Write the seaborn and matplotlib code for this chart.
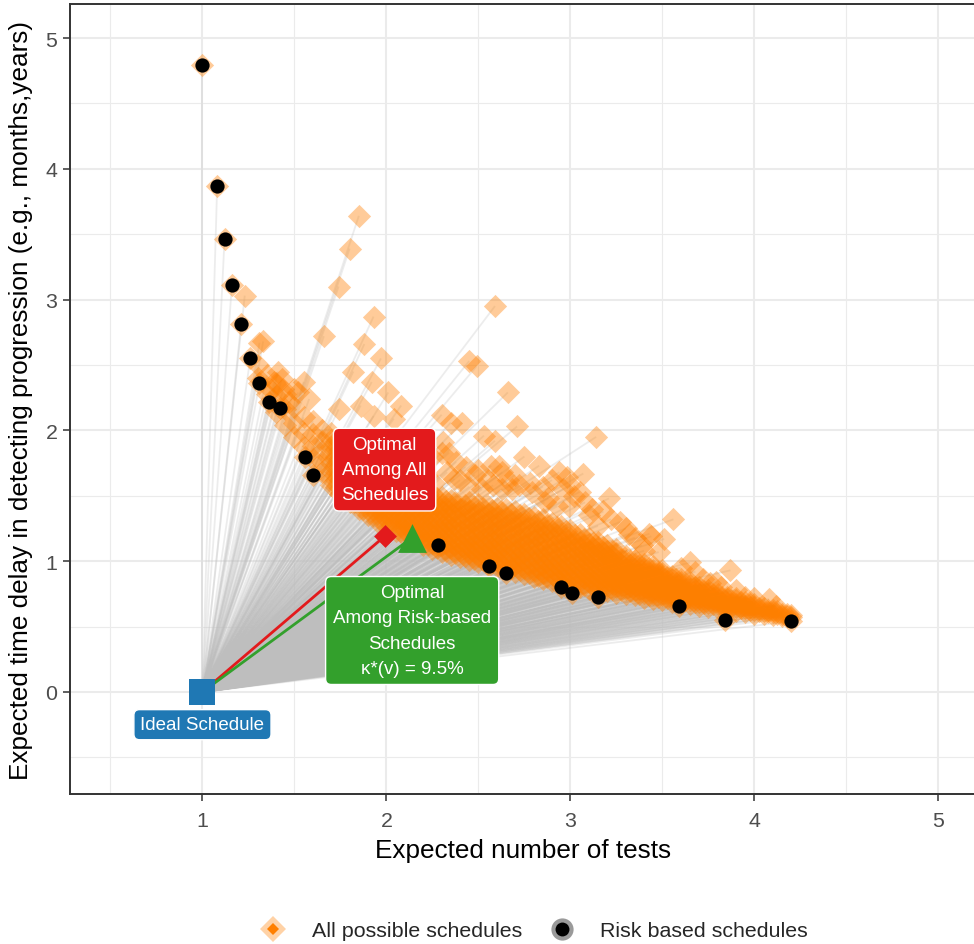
import matplotlib
matplotlib.use("Agg")
import matplotlib.pyplot as plt
import numpy as np
import pandas as pd
import seaborn as sns
from matplotlib.collections import LineCollection
from matplotlib.lines import Line2D
from matplotlib.legend_handler import HandlerTuple
from matplotlib.ticker import MultipleLocator

# ---- data -------------------------------------------------------------
# Risk-based schedules: expected number of tests vs expected detection delay
risk_tests = [1.00, 1.08, 1.12, 1.16, 1.21, 1.26, 1.31, 1.36, 1.42, 1.56,
              1.60, 2.28, 2.56, 2.65, 2.95, 3.01, 3.15, 3.59, 3.84, 4.20]
risk_delay = [4.79, 3.87, 3.46, 3.11, 2.81, 2.55, 2.36, 2.22, 2.17, 1.80,
              1.66, 1.12, 0.96, 0.91, 0.80, 0.76, 0.73, 0.66, 0.55, 0.54]

# Schedules scattered away from the main band
scatter_tests = [1.23, 1.31, 1.33, 1.43, 1.50, 1.55, 1.44, 1.39, 1.85, 1.80,
                 1.74, 1.66, 1.93, 1.88, 1.97, 1.82, 1.92, 2.01, 1.86, 1.74,
                 2.08, 1.93, 2.04, 2.30, 2.35, 2.41, 2.45, 2.49, 2.59, 2.66,
                 2.71, 2.53, 2.59, 2.75, 2.83, 2.94, 3.07, 2.98, 2.61, 2.57,
                 2.63, 2.34, 2.31, 2.30, 2.37, 2.45, 2.52, 2.63, 2.68, 2.79,
                 2.88, 2.99, 3.05, 3.10, 3.14, 3.21, 3.27, 3.15, 3.56, 3.43,
                 3.51, 3.32, 3.65, 3.87, 4.08, 3.95, 3.79, 3.72, 3.48, 3.39,
                 3.44, 2.18, 2.22, 2.26, 2.33, 2.40, 2.43, 2.48, 2.55, 2.58,
                 2.66, 2.72, 2.70, 2.78, 2.85, 2.90, 2.96, 3.02, 3.08, 3.12,
                 2.86, 2.93, 2.50, 2.38, 2.20, 2.25, 3.00, 3.18, 3.22, 3.35,
                 3.30, 3.40, 3.60, 3.68, 3.76, 3.82, 3.90, 4.00, 4.12, 1.37,
                 1.47, 1.52, 1.58, 1.41]
scatter_delay = [3.03, 2.67, 2.68, 2.39, 2.32, 2.37, 2.32, 2.37, 3.64, 3.39,
                 3.10, 2.72, 2.87, 2.66, 2.55, 2.45, 2.37, 2.29, 2.19, 2.16,
                 2.19, 2.11, 2.09, 2.12, 2.06, 2.06, 2.53, 2.49, 2.95, 2.29,
                 2.03, 1.96, 1.92, 1.80, 1.73, 1.68, 1.67, 1.64, 1.73, 1.73,
                 1.68, 1.83, 1.91, 1.83, 1.63, 1.57, 1.55, 1.55, 1.55, 1.53,
                 1.48, 1.42, 1.53, 1.35, 1.95, 1.48, 1.30, 1.27, 1.32, 1.21,
                 1.17, 1.21, 0.99, 0.93, 0.71, 0.73, 0.84, 0.86, 1.07, 1.12,
                 1.19, 1.62, 1.66, 1.60, 1.68, 1.62, 1.72, 1.66, 1.62, 1.58,
                 1.62, 1.58, 1.66, 1.60, 1.57, 1.62, 1.55, 1.50, 1.45, 1.40,
                 1.45, 1.42, 1.70, 1.76, 1.72, 1.80, 1.58, 1.38, 1.32, 1.18,
                 1.25, 1.08, 0.95, 0.92, 0.83, 0.80, 0.78, 0.72, 0.66, 2.31,
                 2.22, 2.29, 2.24, 2.45]

# Main band of schedules, listed column by column
band_tests = [1.30, 1.35, 1.40, 1.45, 1.50, 1.55, 1.60, 1.65, 1.70, 1.75,
              1.80, 1.85, 1.90, 1.95, 2.00, 2.05, 2.10, 2.15, 2.20, 2.25,
              2.30, 2.35, 2.40, 2.45, 2.50, 2.55, 2.60, 2.65, 2.70, 2.75,
              2.80, 2.85, 2.90, 2.95, 3.00, 3.05, 3.10, 3.15, 3.20, 3.25,
              3.30, 3.35, 3.40, 3.45, 3.50, 3.55, 3.60, 3.65, 3.70, 3.75,
              3.80, 3.85, 3.90, 3.95, 4.00, 4.05, 4.10, 4.15, 4.20]
band_delay = [
    [2.40, 2.50],
    [2.28, 2.42],
    [2.14, 2.26, 2.36],
    [2.04, 2.16, 2.28],
    [1.95, 2.06, 2.18],
    [1.87, 1.98, 2.10],
    [1.78, 1.88, 1.97, 2.07],
    [1.68, 1.76, 1.84, 1.92, 2.00],
    [1.58, 1.63, 1.69, 1.75, 1.81, 1.87, 1.93, 1.98],
    [1.51, 1.56, 1.62, 1.67, 1.73, 1.79, 1.85, 1.91],
    [1.45, 1.50, 1.55, 1.61, 1.66, 1.72, 1.78, 1.84],
    [1.40, 1.45, 1.50, 1.55, 1.61, 1.66, 1.72, 1.78],
    [1.35, 1.40, 1.45, 1.50, 1.56, 1.61, 1.67, 1.73],
    [1.31, 1.36, 1.41, 1.46, 1.51, 1.57, 1.62, 1.68],
    [1.27, 1.32, 1.37, 1.42, 1.47, 1.53, 1.58, 1.64],
    [1.23, 1.28, 1.33, 1.38, 1.43, 1.49, 1.54, 1.60],
    [1.19, 1.24, 1.29, 1.34, 1.39, 1.45, 1.50, 1.56],
    [1.16, 1.21, 1.26, 1.31, 1.36, 1.41, 1.46, 1.52, 1.57],
    [1.12, 1.17, 1.22, 1.27, 1.32, 1.37, 1.42, 1.48, 1.54],
    [1.09, 1.14, 1.19, 1.24, 1.29, 1.34, 1.40, 1.45, 1.51],
    [1.07, 1.12, 1.17, 1.22, 1.27, 1.32, 1.38, 1.43, 1.49],
    [1.05, 1.10, 1.15, 1.20, 1.25, 1.30, 1.36, 1.41, 1.47],
    [1.03, 1.08, 1.13, 1.18, 1.23, 1.29, 1.34, 1.40, 1.46],
    [1.01, 1.06, 1.11, 1.16, 1.21, 1.27, 1.32, 1.38, 1.45],
    [0.99, 1.04, 1.09, 1.14, 1.20, 1.25, 1.31, 1.37, 1.44],
    [0.98, 1.03, 1.08, 1.13, 1.18, 1.24, 1.30, 1.36, 1.42],
    [0.96, 1.01, 1.06, 1.11, 1.17, 1.22, 1.28, 1.34, 1.41],
    [0.94, 0.99, 1.04, 1.10, 1.15, 1.21, 1.27, 1.33, 1.40],
    [0.92, 0.97, 1.02, 1.08, 1.13, 1.19, 1.25, 1.31, 1.38],
    [0.90, 0.95, 1.01, 1.06, 1.12, 1.17, 1.23, 1.29, 1.36],
    [0.88, 0.93, 0.99, 1.04, 1.10, 1.16, 1.21, 1.27, 1.34],
    [0.86, 0.91, 0.97, 1.02, 1.08, 1.14, 1.19, 1.25, 1.32],
    [0.85, 0.90, 0.95, 1.00, 1.06, 1.11, 1.17, 1.23, 1.29],
    [0.83, 0.88, 0.93, 0.98, 1.04, 1.09, 1.15, 1.21, 1.27],
    [0.81, 0.86, 0.91, 0.96, 1.02, 1.07, 1.13, 1.18, 1.24],
    [0.80, 0.85, 0.90, 0.95, 1.00, 1.05, 1.10, 1.15, 1.21],
    [0.79, 0.84, 0.88, 0.93, 0.98, 1.03, 1.08, 1.13, 1.18],
    [0.78, 0.82, 0.87, 0.92, 0.96, 1.01, 1.06, 1.11, 1.15],
    [0.77, 0.81, 0.86, 0.90, 0.95, 0.99, 1.04, 1.08, 1.12],
    [0.76, 0.80, 0.84, 0.89, 0.93, 0.97, 1.02, 1.06, 1.09],
    [0.75, 0.79, 0.83, 0.87, 0.91, 0.95, 1.00, 1.04],
    [0.74, 0.78, 0.82, 0.86, 0.90, 0.94, 0.98, 1.01],
    [0.72, 0.76, 0.80, 0.84, 0.88, 0.92, 0.95, 0.98],
    [0.71, 0.75, 0.79, 0.83, 0.86, 0.90, 0.93, 0.96],
    [0.70, 0.74, 0.78, 0.81, 0.85, 0.88, 0.91, 0.93],
    [0.69, 0.73, 0.76, 0.80, 0.83, 0.86, 0.89],
    [0.68, 0.71, 0.75, 0.78, 0.81, 0.84, 0.86],
    [0.67, 0.70, 0.73, 0.76, 0.79, 0.82, 0.84],
    [0.66, 0.69, 0.72, 0.75, 0.78, 0.80],
    [0.65, 0.68, 0.71, 0.74, 0.76, 0.78],
    [0.64, 0.67, 0.70, 0.72, 0.75],
    [0.63, 0.66, 0.68, 0.71, 0.73],
    [0.62, 0.65, 0.67, 0.70, 0.72],
    [0.61, 0.64, 0.66, 0.69],
    [0.60, 0.63, 0.65, 0.67],
    [0.60, 0.62, 0.64],
    [0.59, 0.61, 0.63],
    [0.58, 0.60],
    [0.57, 0.59],
]

# Further schedules of the band, between the columns above
band_mid_tests = [1.725, 1.775, 1.825, 1.875, 1.925, 1.975, 2.025, 2.075,
                  2.125, 2.175, 2.225, 2.275, 2.325, 2.375, 2.425, 2.475,
                  2.525, 2.575, 2.625, 2.675, 2.725, 2.775, 2.825, 2.875,
                  2.925, 2.975, 3.025, 3.075, 3.125, 3.175, 3.225, 3.275,
                  3.325, 3.375, 3.425, 3.475, 3.525, 3.575, 3.625, 3.675,
                  3.725, 3.775, 3.825, 3.875, 3.925, 3.975, 4.025, 4.075,
                  4.125, 4.175]
band_mid_delay = [
    [1.57, 1.62, 1.68, 1.74, 1.80, 1.86, 1.92],
    [1.50, 1.56, 1.61, 1.67, 1.73, 1.79, 1.85],
    [1.45, 1.50, 1.55, 1.61, 1.67, 1.73, 1.79],
    [1.40, 1.45, 1.50, 1.56, 1.61, 1.67, 1.73],
    [1.35, 1.40, 1.46, 1.51, 1.57, 1.62, 1.68],
    [1.31, 1.36, 1.42, 1.47, 1.53, 1.58, 1.64],
    [1.27, 1.32, 1.38, 1.43, 1.49, 1.54, 1.60],
    [1.23, 1.28, 1.34, 1.39, 1.45, 1.50, 1.56],
    [1.20, 1.25, 1.30, 1.36, 1.41, 1.47, 1.53],
    [1.16, 1.21, 1.27, 1.32, 1.38, 1.43, 1.49, 1.54],
    [1.13, 1.18, 1.24, 1.29, 1.35, 1.40, 1.46, 1.51],
    [1.10, 1.16, 1.21, 1.27, 1.32, 1.38, 1.43, 1.48],
    [1.08, 1.14, 1.19, 1.25, 1.30, 1.36, 1.41, 1.46],
    [1.06, 1.12, 1.17, 1.23, 1.28, 1.34, 1.39, 1.45],
    [1.04, 1.10, 1.15, 1.21, 1.26, 1.32, 1.38, 1.43],
    [1.02, 1.08, 1.13, 1.19, 1.25, 1.30, 1.36, 1.42],
    [1.01, 1.06, 1.12, 1.17, 1.23, 1.29, 1.35, 1.41],
    [0.99, 1.05, 1.10, 1.16, 1.22, 1.28, 1.34, 1.39],
    [0.97, 1.03, 1.09, 1.14, 1.20, 1.26, 1.32, 1.38],
    [0.95, 1.01, 1.07, 1.13, 1.19, 1.25, 1.31, 1.36],
    [0.93, 0.99, 1.05, 1.11, 1.17, 1.23, 1.29, 1.35],
    [0.91, 0.97, 1.03, 1.09, 1.15, 1.21, 1.27, 1.33],
    [0.89, 0.95, 1.01, 1.07, 1.13, 1.19, 1.25, 1.31],
    [0.88, 0.93, 0.99, 1.05, 1.11, 1.17, 1.23, 1.28],
    [0.86, 0.92, 0.97, 1.03, 1.09, 1.15, 1.20, 1.26],
    [0.84, 0.90, 0.95, 1.01, 1.07, 1.12, 1.18, 1.23],
    [0.83, 0.88, 0.93, 0.99, 1.04, 1.10, 1.15, 1.20],
    [0.82, 0.87, 0.92, 0.97, 1.02, 1.07, 1.12, 1.17],
    [0.81, 0.85, 0.90, 0.95, 1.00, 1.05, 1.10, 1.14],
    [0.80, 0.84, 0.89, 0.93, 0.98, 1.02, 1.07, 1.11],
    [0.79, 0.83, 0.87, 0.92, 0.96, 1.00, 1.04, 1.08],
    [0.78, 0.82, 0.86, 0.90, 0.94, 0.98, 1.02],
    [0.77, 0.81, 0.85, 0.89, 0.93, 0.97, 1.00],
    [0.75, 0.79, 0.83, 0.87, 0.91, 0.94, 0.97],
    [0.74, 0.78, 0.82, 0.85, 0.89, 0.92, 0.95],
    [0.73, 0.77, 0.80, 0.84, 0.87, 0.90, 0.92],
    [0.72, 0.75, 0.79, 0.82, 0.85, 0.88],
    [0.71, 0.74, 0.77, 0.80, 0.83, 0.86],
    [0.70, 0.73, 0.76, 0.79, 0.82],
    [0.69, 0.72, 0.75, 0.78, 0.80],
    [0.68, 0.71, 0.74, 0.77],
    [0.67, 0.70, 0.72, 0.75],
    [0.66, 0.68, 0.71, 0.73],
    [0.65, 0.67, 0.70],
    [0.64, 0.66, 0.69],
    [0.63, 0.65, 0.67],
    [0.62, 0.64],
    [0.61, 0.63],
    [0.60, 0.62],
    [0.58, 0.60],
]

# Reference schedules
ideal_tests, ideal_delay = 1.00, 0.00
opt_all_tests, opt_all_delay = 1.99, 1.19
opt_risk_tests, opt_risk_delay = 2.14, 1.18
kappa_text = "\u03ba*(v) = 9.5%"

# ---- tables -----------------------------------------------------------
def flatten(xs, yss):
    fx = [x for x, ys in zip(xs, yss) for _ in ys]
    fy = [y for ys in yss for y in ys]
    return fx, fy

b1x, b1y = flatten(band_tests, band_delay)
b2x, b2y = flatten(band_mid_tests, band_mid_delay)
all_df = pd.DataFrame({
    "tests": b1x + b2x + scatter_tests + risk_tests,
    "delay": b1y + b2y + scatter_delay + risk_delay,
})
risk_df = pd.DataFrame({"tests": risk_tests, "delay": risk_delay})

# ---- style ------------------------------------------------------------
sns.set_style("white")
plt.rcParams["font.family"] = ["Liberation Sans", "DejaVu Sans"]

ORANGE = "#FF7F00"
RED = "#E31A1C"
GREEN = "#33A02C"
BLUE = "#1F78B4"
W, H = 974, 945

fig = plt.figure(figsize=(W / 100, H / 100), dpi=100)
ax = fig.add_axes([70 / W, 1 - 795 / H, (W - 70) / W + 0.003, (795 - 5) / H])

# segments from the ideal schedule to every schedule
segs = [[(ideal_tests, ideal_delay), (x, y)]
        for x, y in zip(all_df["tests"], all_df["delay"])]
ax.add_collection(LineCollection(segs, colors="#BEBEBE", alpha=0.28,
                                 linewidths=1.3, zorder=1))

sns.scatterplot(data=all_df, x="tests", y="delay", marker="D", s=140,
                color=ORANGE, alpha=0.4, linewidth=0, ax=ax, zorder=2,
                legend=False)

ax.plot([ideal_tests, opt_all_tests], [ideal_delay, opt_all_delay],
        color=RED, lw=2.0, zorder=3, solid_capstyle="butt")
ax.plot([ideal_tests, opt_risk_tests], [ideal_delay, opt_risk_delay],
        color=GREEN, lw=2.0, zorder=3, solid_capstyle="butt")

sns.scatterplot(data=risk_df, x="tests", y="delay", marker="o", s=105,
                color="black", linewidth=0, ax=ax, zorder=4, legend=False)

ax.scatter([opt_all_tests], [opt_all_delay], marker="D", s=135, color=RED,
           linewidth=0, zorder=5)
ax.scatter([opt_risk_tests], [opt_risk_delay], marker="^", s=430,
           color=GREEN, linewidth=0, zorder=5)
ax.scatter([ideal_tests], [ideal_delay], marker="s", s=330, color=BLUE,
           linewidth=0, zorder=5)

label_kw = dict(ha="center", va="center", color="white", fontsize=13.5,
                linespacing=1.64, zorder=6)
ax.text(opt_all_tests, opt_all_delay + 0.51, "Optimal\nAmong All\nSchedules",
        bbox=dict(boxstyle="round,pad=0.4,rounding_size=0.3", fc=RED,
                  ec="white", lw=1.0), **label_kw)
ax.text(opt_risk_tests, opt_risk_delay - 0.71,
        "Optimal\nAmong Risk-based\nSchedules\n" + kappa_text,
        bbox=dict(boxstyle="round,pad=0.4,rounding_size=0.3", fc=GREEN,
                  ec="white", lw=1.0), **label_kw)
ax.text(ideal_tests, ideal_delay - 0.25, "Ideal Schedule",
        bbox=dict(boxstyle="round,pad=0.35,rounding_size=0.3", fc=BLUE,
                  ec="white", lw=1.0), **label_kw)

# axes
ax.set_xlim(0.28, 5.21)
ax.set_ylim(-0.78, 5.26)
ax.set_xticks([1, 2, 3, 4, 5])
ax.set_yticks([0, 1, 2, 3, 4, 5])
ax.xaxis.set_minor_locator(MultipleLocator(0.5))
ax.yaxis.set_minor_locator(MultipleLocator(0.5))
ax.grid(which="major", color="#EBEBEB", lw=1.5)
ax.grid(which="minor", color="#EBEBEB", lw=0.8)
ax.set_axisbelow(True)
ax.tick_params(which="major", direction="out", length=5, width=1.1,
               color="#333333", labelsize=15.4, labelcolor="#4D4D4D", pad=4,
               bottom=True, left=True)
ax.tick_params(axis="x", which="major", pad=7)
ax.tick_params(which="minor", length=0)
for sp in ax.spines.values():
    sp.set_color("#333333")
    sp.set_linewidth(1.4)
ax.set_xlabel("Expected number of tests", fontsize=18.8, color="black",
              labelpad=6)
ax.set_ylabel("Expected time delay in detecting progression (e.g., months,years)",
              fontsize=18.8, color="black", labelpad=9)

# legend
h_all = (Line2D([], [], ls="none", marker="D", ms=13.5, color=ORANGE,
                alpha=0.35, mew=0),
         Line2D([], [], ls="none", marker="D", ms=6.5, color=ORANGE, mew=0))
h_risk = (Line2D([], [], ls="none", marker="o", ms=16, color="#9A9A9A",
                 mew=0),
          Line2D([], [], ls="none", marker="o", ms=10, color="black", mew=0))
fig.legend([h_all, h_risk], ["All possible schedules", "Risk based schedules"],
           handler_map={tuple: HandlerTuple(ndivide=1)},
           loc="center", bbox_to_anchor=(532 / W, 1 - 932 / H), ncol=2,
           frameon=False, fontsize=15.4, handlelength=1.6,
           handletextpad=0.98, columnspacing=1.07)

fig.savefig("out.png", dpi=100)
